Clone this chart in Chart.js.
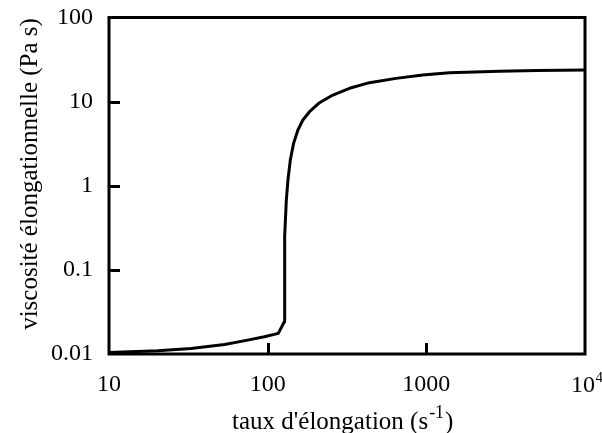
<!DOCTYPE html>
<html>
<head>
<meta charset="utf-8">
<script src="https://cdn.jsdelivr.net/npm/chart.js@4/dist/chart.umd.min.js"></script>
<style>
  html, body { margin: 0; padding: 0; background: #fff; }
  #wrap { width: 602px; height: 433px; }
</style>
</head>
<body>
<div id="wrap"><canvas id="viscoChart"></canvas></div>
<script>
// taux d'élongation (s-1) et viscosité élongationnelle (Pa s)
const strainRate = [10, 20.3, 32.9, 53.5, 74.8, 95.3, 116.7, 127.3, 128, 131.1, 134.2, 138.9, 145.7, 155.1, 166.7, 183.6, 212.3, 257.5, 328, 438, 644, 948, 1396, 2880, 5000, 10000];
const viscosity = [0.0104, 0.0109, 0.01166, 0.0130, 0.01462, 0.0160, 0.0176, 0.0242, 0.25, 0.676, 1.17, 2.02, 3.19, 4.60, 6.04, 7.59, 9.70, 11.98, 14.4, 16.8, 18.9, 20.7, 22.1, 22.9, 23.4, 23.8];
const xTicks = [10, 100, 1000, 10000];
const yTicks = [0.01, 0.1, 1, 10, 100];
const xTitle = "taux d'élongation (s";
const xTitleSup = '-1';
const yTitle = 'viscosité élongationnelle (Pa s)';

const serif = '"Liberation Serif", "Times New Roman", serif';

const framePlugin = {
    id: 'frame',
    afterDraw(chart) {
        const ctx = chart.ctx;
        const a = chart.chartArea;
        const xs = chart.scales.x, ys = chart.scales.y;
        ctx.save();
        ctx.strokeStyle = '#000';
        ctx.lineWidth = 3;
        ctx.strokeRect(a.left, a.top, a.right - a.left, a.bottom - a.top);
        // petites graduations vers l'intérieur
        ctx.beginPath();
        xTicks.slice(1, -1).forEach(v => {
            const px = Math.round(xs.getPixelForValue(v)) + 0.5;
            ctx.moveTo(px, a.bottom);
            ctx.lineTo(px, a.bottom - 11);
        });
        yTicks.slice(1, -1).forEach(v => {
            const py = Math.round(ys.getPixelForValue(v)) + 0.5;
            ctx.moveTo(a.left, py);
            ctx.lineTo(a.left + 11, py);
        });
        ctx.stroke();

        ctx.fillStyle = '#000';
        ctx.textBaseline = 'alphabetic';
        ctx.textAlign = 'left';
        // étiquette 10^4
        const px4 = xs.getPixelForValue(10000);
        ctx.font = '24px ' + serif;
        const w10 = ctx.measureText('10').width;
        ctx.fillText('10', px4 - 14, 392);
        ctx.font = '15px ' + serif;
        ctx.fillText('4', px4 - 14 + w10 + 0.5, 382);

        // titre axe x avec exposant
        ctx.font = '25px ' + serif;
        const wMain = ctx.measureText(xTitle).width;
        ctx.font = '18px ' + serif;
        const wSup = ctx.measureText(xTitleSup).width;
        const x0 = 232;
        ctx.font = '25px ' + serif;
        ctx.fillText(xTitle, x0, 429);
        ctx.font = '18px ' + serif;
        ctx.fillText(xTitleSup, x0 + wMain + 1, 418);
        ctx.font = '25px ' + serif;
        ctx.fillText(')', x0 + wMain + wSup + 2, 429);

        // titre axe y
        ctx.translate(37, 174);
        ctx.rotate(-Math.PI / 2);
        ctx.textAlign = 'center';
        ctx.fillText(yTitle, 0, 0);
        ctx.restore();
    }
};

document.addEventListener('DOMContentLoaded', () => {
    const ctx = document.getElementById('viscoChart').getContext('2d');
    new Chart(ctx, {
        type: 'line',
        data: {
            datasets: [{
                data: strainRate.map((x, i) => ({ x: x, y: viscosity[i] })),
                borderColor: '#000',
                borderWidth: 3,
                pointRadius: 0,
                tension: 0,
                borderJoinStyle: 'round',
                fill: false
            }]
        },
        options: {
            responsive: true,
            maintainAspectRatio: false,
            animation: false,
            layout: { padding: { top: 17.5, right: 17, left: 0, bottom: 0 } },
            plugins: { legend: { display: false }, tooltip: { enabled: false } },
            scales: {
                x: {
                    type: 'logarithmic',
                    min: 10,
                    max: 10000,
                    afterBuildTicks: s => { s.ticks = xTicks.map(v => ({ value: v })); },
                    afterFit: s => { s.height = 79; s.paddingLeft = 0; s.paddingRight = 0; },
                    grid: { display: false, drawTicks: false },
                    border: { display: false },
                    ticks: {
                        color: '#000',
                        font: { family: serif, size: 24 },
                        padding: 16,
                        maxRotation: 0,
                        autoSkip: false,
                        callback: v => v === 10000 ? '' : String(v)
                    }
                },
                y: {
                    type: 'logarithmic',
                    min: 0.01,
                    max: 100,
                    afterBuildTicks: s => { s.ticks = yTicks.map(v => ({ value: v })); },
                    afterFit: s => { s.width = 109; s.paddingTop = 0; s.paddingBottom = 0; },
                    grid: { display: false, drawTicks: false },
                    border: { display: false },
                    ticks: {
                        color: '#000',
                        font: { family: serif, size: 24 },
                        padding: 16,
                        autoSkip: false,
                        callback: v => String(v)
                    }
                }
            }
        },
        plugins: [framePlugin]
    });
});
</script>
</body>
</html>
